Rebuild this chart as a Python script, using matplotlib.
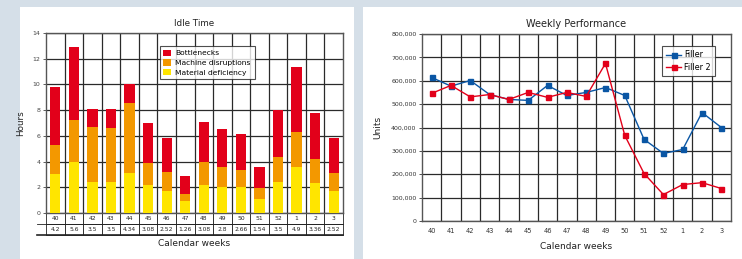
import matplotlib
matplotlib.use("Agg")
import matplotlib.pyplot as plt
from matplotlib.patches import Rectangle
from matplotlib.ticker import FuncFormatter, MultipleLocator
import numpy as np

weeks = ["40", "41", "42", "43", "44", "45", "46", "47", "48", "49", "50", "51", "52", "1", "2", "3"]
row_values = ["4.2", "5.6", "3.5", "3.5", "4.34", "3.08", "2.52", "1.26", "3.08", "2.8", "2.66", "1.54", "3.5", "4.9", "3.36", "2.52"]

material = [3.0, 4.0, 2.45, 2.45, 3.15, 2.15, 1.75, 0.9, 2.2, 2.0, 2.0, 1.1, 2.45, 3.55, 2.35, 1.75]
machine = [2.3, 3.2, 4.25, 4.15, 5.4, 1.75, 1.45, 0.6, 1.8, 1.55, 1.35, 0.88, 1.9, 2.78, 1.85, 1.4]
bottlenecks = [4.5, 5.7, 1.4, 1.5, 1.5, 3.1, 2.65, 1.4, 3.1, 2.95, 2.8, 1.62, 3.67, 5.05, 3.6, 2.7]

filler = [614000, 577000, 601000, 541000, 520000, 516000, 580000, 537000, 550000, 571000, 537000, 349000, 289000, 306000, 464000, 400000]
filler2 = [546000, 580000, 531000, 541000, 520000, 550000, 529000, 550000, 533000, 674000, 366000, 203000, 113000, 156000, 164000, 139000]

C_RED = "#e2001a"
C_ORANGE = "#f39800"
C_YELLOW = "#ffe500"
C_BLUE = "#0a56a4"
GRID = "#2a2a2a"
BG = "#d5dfe8"

W, H = 742, 259
fig = plt.figure(figsize=(W / 100, H / 100), dpi=100)
fig.patch.set_facecolor(BG)

def fx(px):
    return px / W

def fy(py):
    return 1 - py / H

# white panels
for x0, x1 in [(20, 354), (363, 742)]:
    fig.add_artist(Rectangle((fx(x0), 0), fx(x1 - x0), fy(7), transform=fig.transFigure,
                             facecolor="white", edgecolor="none", zorder=-10))

# ---------------- Left chart ----------------
ax1 = fig.add_axes([fx(46), fy(213), fx(343 - 46), (213 - 33) / H])
x = np.arange(len(weeks))
mat = np.array(material)
mac = np.array(machine)
bot = np.array(bottlenecks)
ax1.bar(x, mat, width=0.55, color=C_YELLOW, label="Material deficiency", zorder=3)
ax1.bar(x, mac, width=0.55, bottom=mat, color=C_ORANGE, label="Machine disruptions", zorder=3)
ax1.bar(x, bot, width=0.55, bottom=mat + mac, color=C_RED, label="Bottlenecks", zorder=3)
ax1.set_xlim(-0.5, len(weeks) - 0.5)
ax1.set_ylim(0, 14)
ax1.yaxis.set_major_locator(MultipleLocator(2))
ax1.set_xticks(x)
ax1.set_xticks(np.arange(0.5, len(weeks) - 0.5, 1), minor=True)
ax1.tick_params(axis="x", which="both", bottom=False, labelbottom=False)
ax1.tick_params(axis="y", labelsize=4.5, length=2, width=0.6, colors="#444444", pad=2)
ax1.grid(axis="y", which="major", color=GRID, linewidth=0.9, zorder=0)
ax1.grid(axis="x", which="minor", color=GRID, linewidth=0.9, zorder=0)
ax1.set_axisbelow(True)
for s in ["left", "top", "right", "bottom"]:
    ax1.spines[s].set_color("#555555")
    ax1.spines[s].set_linewidth(1.0)
ax1.set_title("Idle Time", fontsize=6.3, pad=5, color="#222222")
ax1.set_ylabel("Hours", fontsize=6.3, labelpad=5, color="#222222")

tbl = ax1.table(cellText=[weeks, row_values], cellLoc="center",
                bbox=[0, -22 / 180, 1, 22 / 180])
tbl.auto_set_font_size(False)
tbl.set_fontsize(4.3)
for (r, c), cell in tbl.get_celld().items():
    cell.set_linewidth(0.6)
    cell.set_edgecolor("#222222")
    cell.get_text().set_color("#222222")
ax1.plot([-0.03, 1.0], [-22 / 180, -22 / 180], transform=ax1.transAxes, color="#222222",
         linewidth=1.2, clip_on=False, zorder=5)
ax1.plot([-0.03, 1.0], [-11 / 180, -11 / 180], transform=ax1.transAxes, color="#222222",
         linewidth=0.6, clip_on=False, zorder=5)
ax1.text(0.5, -30 / 180, "Calendar weeks", transform=ax1.transAxes, ha="center", va="center",
         fontsize=6.5, color="#222222")

h, l = ax1.get_legend_handles_labels()
leg1 = ax1.legend(h[::-1], l[::-1], loc="upper left", bbox_to_anchor=(0.37, 0.95),
                  fontsize=5.4, frameon=True, fancybox=False, edgecolor="#222222",
                  handlelength=1.0, handleheight=1.0, borderpad=0.5, labelspacing=0.35,
                  handletextpad=0.6)
leg1.get_frame().set_linewidth(0.8)
leg1.set_zorder(10)

# ---------------- Right chart ----------------
ax2 = fig.add_axes([fx(422), fy(221), fx(731 - 422), (221 - 34) / H])
ax2.plot(x, filler, color=C_BLUE, marker="s", markersize=3.6, linewidth=1.0, label="Filler", zorder=3)
ax2.plot(x, filler2, color=C_RED, marker="s", markersize=3.6, linewidth=1.0, label="Filler 2", zorder=3)
ax2.set_xlim(-0.5, len(weeks) - 0.5)
ax2.set_ylim(0, 800000)
ax2.yaxis.set_major_locator(MultipleLocator(100000))
ax2.yaxis.set_major_formatter(FuncFormatter(lambda v, p: f"{int(v):,}"))
ax2.set_xticks(x)
ax2.set_xticklabels(weeks)
ax2.set_xticks(np.arange(0.5, len(weeks) - 0.5, 1), minor=True)
ax2.tick_params(axis="x", which="both", length=0, labelsize=4.8, colors="#333333", pad=5)
ax2.tick_params(axis="y", labelsize=4.5, length=2, width=0.6, colors="#333333", pad=2)
ax2.grid(axis="y", which="major", color=GRID, linewidth=0.9, zorder=0)
ax2.grid(axis="x", which="minor", color=GRID, linewidth=0.9, zorder=0)
ax2.set_axisbelow(True)
for s in ["left", "top", "right", "bottom"]:
    ax2.spines[s].set_color("#555555")
    ax2.spines[s].set_linewidth(1.0)
ax2.set_title("Weekly Performance", fontsize=7, pad=5, color="#222222")
ax2.set_ylabel("Units", fontsize=6.5, labelpad=6, color="#222222")
ax2.set_xlabel("Calendar weeks", fontsize=6.5, labelpad=6, color="#222222")
leg2 = ax2.legend(loc="upper left", bbox_to_anchor=(0.765, 0.955), fontsize=5.8, frameon=True,
                  fancybox=False, edgecolor="#222222", handlelength=1.8, borderpad=0.5,
                  labelspacing=0.4, handletextpad=0.4)
leg2.get_frame().set_linewidth(0.8)
leg2.set_zorder(10)

fig.savefig("out.png", dpi=100, facecolor=BG)
